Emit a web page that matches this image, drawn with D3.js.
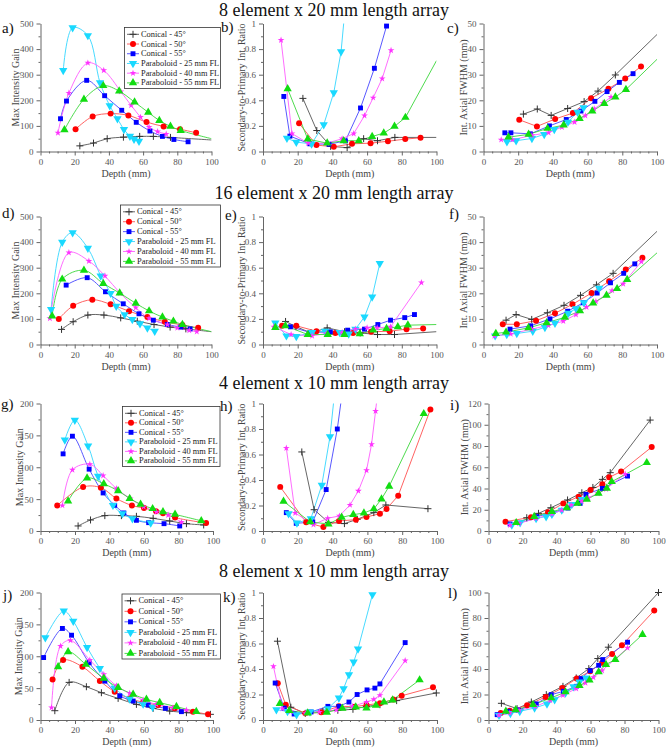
<!DOCTYPE html>
<html><head><meta charset="utf-8">
<script src="https://cdn.jsdelivr.net/npm/d3@7"></script>
<style>
body{margin:0;background:#fff}
svg{display:block}
svg text{font-family:"Liberation Serif","Times New Roman","DejaVu Serif",serif !important}
</style>
</head><body>
<svg id="chart" width="668" height="750" font-family="Liberation Serif, DejaVu Serif, serif"></svg>
<script>
// ---------- DATA ----------
const seriesNames = ["Conical - 45°","Conical - 50°","Conical - 55°","Paraboloid - 25 mm FL","Paraboloid - 40 mm FL","Paraboloid - 55 mm FL"];
const rowTitles = ["8 element x 20 mm length array","16 element x 20 mm length array","4 element x 10 mm length array","8 element x 10 mm length array"];
const panelLetters = ["a)","b)","c)","d)","e)","f)","g)","h)","i)","j)","k)","l)"];
const xTicks = [0,20,40,60,80,100];
const gainTicks500 = [0,100,200,300,400,500];
const gainTicks200 = [0,50,100,150,200];
const ratioTicks = [0,0.2,0.4,0.6,0.8,1];
const fwhmTicks50 = [0,10,20,30,40,50];
const fwhmTicks120 = [0,20,40,60,80,100,120];
const fwhmTicks100 = [0,20,40,60,80,100];
const yTitles = ["Max Intensity Gain","Secondary-to-Primary Int. Ratio","Int. Axial FWHM (mm)"];
const xTitle = "Depth (mm)";

// series order: Conical 45, Conical 50, Conical 55, Parab 25, Parab 40, Parab 55
const panelA = [
 [[23,22],[31,33],[39,50],[48.5,56],[58,59],[66,59],[76,55]],
 [[20.5,87],[30.5,137],[41,148],[51.4,141],[62,115],[72,98],[81.6,87],[91,73]],
 [[11.7,128],[15.2,197],[27,278],[37.5,218],[47.5,161],[56,114],[64,80],[71.3,59],[78,47],[86.3,38]],
 [[13.3,317],[18.8,484],[27.7,453],[34.8,269],[40.5,179],[45,128],[48.8,86],[52.3,60],[54.7,48],[57.6,40]],
 [[10.2,73],[16.6,228],[27.7,346],[37,317],[47,234],[53,180],[58.5,134],[63.5,95],[68.5,78],[73.5,68]],
 [[14,85],[25.4,204],[36.7,257],[46,236],[55,193],[63,153],[69.5,121],[76,98],[82,82]]
];
const tailA = [[100,45],null,null,null,null,[100,50]];

const panelB = [
 [[23,0.415],[31,0.164],[39,0.04],[48.5,0.03],[58,0.10],[66,0.084],[76,0.11]],
 [[20.8,0.22],[30.8,0.05],[40.8,0.037],[51.3,0.06],[62,0.065],[72,0.08],[82,0.097],[90.8,0.107]],
 [[12,0.43],[15.5,0.12],[27,0.06],[38,0.057],[47.5,0.083],[56.2,0.34],[64.2,0.65],[71.2,0.98]],
 [[13.8,0.104],[19.2,0.073],[28,0.06],[35,0.21],[40.8,0.46],[45,0.78]],
 [[10.4,0.87],[16.7,0.14],[26,0.065],[37,0.065],[45.6,0.10],[52.3,0.14],[58.5,0.28],[63.5,0.42],[68.7,0.57],[73.8,0.79]],
 [[14.2,0.49],[25.8,0.097],[37,0.065],[46.5,0.084],[55.2,0.084],[62.9,0.117],[69.6,0.144],[75.8,0.196],[82.1,0.266]]
];
const tailB = [[100,0.11],null,null,[48,1.22],null,[100,0.71]];

const panelC = [
 [[23,14.6],[31,16.6],[39,14.1],[48.5,16.8],[58,19.5],[66,23.6],[76,29.9]],
 [[20.6,12.4],[30.8,9.8],[41.3,12.7],[51.5,15],[62,20.8],[72,24.5],[81.7,28.5],[90.8,33.2]],
 [[12.3,7.3],[15.8,7.3],[27,6.9],[38,10],[47.7,12.5],[56.2,15.8],[64.2,19.6],[71.2,23.4],[78.3,27],[86.2,30.4]],
 [[13.5,3.8],[18.8,4.2],[27.9,5.1],[35,6.7],[40.8,8.6],[48.7,11.5],[54.2,15.4],[57.7,17.1]],
 [[10.2,4.6],[16.7,4.6],[27.9,6.3],[37.5,7.4],[45.2,9.5],[52.5,11.5],[58.7,14],[63.8,16.7],[68.8,18.9],[73.5,21.3]],
 [[14.4,5.6],[26,6.7],[36.9,9],[46.2,10.3],[55.4,12.9],[62.7,15.8],[69.6,18.7],[76,21.3],[82.1,24.2]]
];
const tailC = [[100,45.7],null,null,null,null,[100,36]];

const panelD = [
 [[12.3,59],[19.1,89],[27.7,115],[37.1,115],[46.9,104],[56.6,91],[66.4,78],[75.8,68],[85,61]],
 [[10.7,100],[19.1,151],[30.3,175],[41,157],[51.8,130],[62.5,107],[72.7,89],[83,76],[92.2,65]],
 [[15,232],[27.3,261],[38,206],[48.4,159],[57.6,120],[66,95],[74.2,78],[82,68],[87.5,61]],
 [[6.2,137],[12.7,400],[18.8,437],[27.7,376],[35.2,268],[41,200],[44.3,150],[49.2,117],[53.7,98],[58.2,81],[62.5,65],[66.8,52]],
 [[5.5,102],[16.6,359],[28.3,326],[37.7,268],[46.5,201],[55.7,144],[63.5,102],[74.2,78],[80,65],[87,55],[91.4,50]],
 [[6.8,111],[12.7,255],[25.4,290],[36.7,238],[46.3,201],[55.7,161],[63.5,131],[71.3,107],[77.7,91],[83,78]]
];
const tailD = [[100,50],null,null,null,null,[100,50]];

const panelE = [
 [[13,0.18],[19,0.14],[27.7,0.09],[37,0.13],[47,0.1],[56,0.09],[66,0.078],[75.8,0.078]],
 [[11,0.146],[19.2,0.146],[30.8,0.104],[41.7,0.089],[51.9,0.089],[62.3,0.099],[73,0.104],[82.7,0.12],[92.3,0.125]],
 [[15.8,0.138],[27.3,0.094],[38.8,0.099],[48.8,0.112],[58.5,0.12],[66.2,0.156],[73.5,0.19],[81.7,0.21],[87.3,0.234]],
 [[7.1,0.169],[13.5,0.068],[19.2,0.063],[28.3,0.094],[35.8,0.104],[44.2,0.094],[49.4,0.083],[53.3,0.12],[58.5,0.216],[62.9,0.372],[67.3,0.633]],
 [[6.2,0.138],[16.2,0.078],[28.3,0.068],[36.5,0.086],[45.6,0.094],[53.3,0.12],[60,0.13],[65.8,0.13],[73.5,0.138],[91.3,0.484]],
 [[7.1,0.133],[12.9,0.146],[25.8,0.078],[37.3,0.078],[46.9,0.078],[55.8,0.083],[63.5,0.112],[71.2,0.125],[77.7,0.138],[83.5,0.151]]
];
const tailE = [[100,0.10],null,null,null,null,[100,0.156]];

const panelF = [
 [[13,9.5],[18.8,11.7],[27.8,9.8],[36.8,12.4],[46.4,15.3],[55.9,19.2],[65.1,23.3],[74.7,27.8]],
 [[11.1,7.9],[19.2,7.9],[30.3,9.3],[41.2,12.2],[51.3,15.7],[62.3,20.1],[72.4,24.7],[82,29.3],[91.6,33.9]],
 [[15.3,6],[27.2,7.3],[38.3,10],[48.5,13],[57.5,16.3],[65.5,20.1],[73.2,24.1],[80.8,27.8],[87.2,31.5]],
 [[6.7,3.4],[13.4,3.9],[19.2,4.3],[28.4,5.2],[35.4,6.7],[41.2,8.3],[48.9,12.2],[53.3,14],[57.9,16.3],[66.7,22]],
 [[6.3,3.4],[15.7,4.1],[27.8,6],[37.4,7.5],[46,9.1],[53.3,11.7],[59.4,14.6],[64.8,16.8],[74.1,21.1],[80.5,23.7],[91,32.4]],
 [[7.1,4.3],[13,4.8],[25.9,6.5],[36.4,8.5],[46.9,10.6],[55.6,13.1],[63.2,16.2],[70.9,19.2],[77,21.8],[82.8,25.4]]
];
const tailF = [[100,44.2],null,null,null,null,[100,35.8]];

const panelG = [
 [[21.8,7.9],[29,17.3],[37.3,24.1],[46.9,24.1],[55.6,23],[65.3,19.9],[74.9,15.7],[84.6,11.5],[94.6,9.5]],
 [[9.7,40],[24.7,69],[35,68],[44,51],[53,40],[60,36],[67,31],[71,28],[78,21],[96,12.6]],
 [[13.1,121],[18.5,148.7],[28.2,97],[36.3,59.7],[43,40.3],[48.3,28.3],[55.6,16.8],[62.7,13.1],[71.6,11.5],[80.7,7.9]],
 [[14.1,143],[19.9,174],[27.6,133.5],[33.4,86],[42,40.3],[47.5,27.2],[53.3,19.4],[63.9,12.6]],
 [[12.7,40],[18.5,96],[28.6,104.7],[36.3,87],[44,66.5],[52,51],[59.8,38],[67.2,30],[74,25],[81.7,14]],
 [[16,47],[27,83],[36.7,74],[45,63],[51.7,51],[58,42],[65,35],[71,30],[78,26],[93.2,16]]
];
const tailG = [null,null,null,null,null,null];

const panelH = [
 [[22.3,0.62],[29.4,0.167],[37.6,0.068],[46.8,0.058],[54.2,0.092],[63.7,0.144],[70.6,0.204],[94.8,0.175]],
 [[9.9,0.346],[24.8,0.068],[34.7,0.031],[43.7,0.079],[53.4,0.089],[59.5,0.11],[67.2,0.136],[71,0.173],[77.7,0.277],[96.2,0.953]],
 [[13.4,0.144],[19.1,0.06],[28.6,0.071],[36.3,0.325],[42.7,0.8]],
 [[14.7,0.136],[19.5,0.063],[27.5,0.097],[33.8,0.36],[38.5,0.74]],
 [[13.4,0.65],[18.5,0.141],[29,0.05],[37.2,0.1],[43.9,0.118],[50,0.204],[54.8,0.314],[59.5,0.476],[62.4,0.68],[64.7,0.94]],
 [[11.8,0.233],[27.1,0.071],[37.6,0.055],[45.2,0.107],[51.9,0.128],[58,0.141],[63.7,0.173],[68.1,0.251],[72.5,0.351],[92.4,0.92]]
];
const tailH = [null,null,[46.7,1.2],[42.5,1.26],[66,1.1],null];

const panelI = [
 [[22.5,12.5],[29.4,16.6],[36.7,21.9],[46.5,29.2],[54.9,36],[61.4,41],[67,48.6],[71.6,54.9],[95.1,104.4]],
 [[10,8.8],[25,12.9],[35,17.6],[44,26],[53,32.3],[60,38.6],[67,43.9],[71,50.5],[78,56],[96,79]],
 [[12.7,6.6],[28.4,13.5],[37.3,17.2],[46.7,21.6],[53.9,26],[57.3,34.5],[67,40.1],[81.8,51.7]],
 [[13.7,5.6],[18.6,7.8],[28,11.9],[33.9,13.5],[37.3,15.7],[43.1,19.7],[49,25],[54.9,29.8]],
 [[12.7,5.6],[18,7.2],[28,11.9],[37.3,16],[43.1,19.7],[48.6,24.5],[54.9,28.2],[58.8,31.3],[64.3,35.4],[69.2,39.5],[80.4,53.6]],
 [[16.3,7.8],[26.9,13.5],[37.3,18.2],[46.1,21.9],[52.4,26],[57.8,29.8],[64.7,35.4],[69.6,40.1],[72.5,46.4],[93.1,64.3]]
];
const tailI = [null,null,null,null,null,null];

const panelJ = [
 [[8.3,14.6],[16.6,59],[26.6,52.2],[35.3,42.8],[45,33.9],[55.6,24.5],[65.3,18.3],[74.9,14.1],[84.6,11.5],[98.5,8.9]],
 [[7,63.7],[13.1,94],[24.3,83.5],[34.4,61.1],[43,44.4],[51.7,33.9],[59.5,27.7],[68.1,23.5],[77.8,18.3],[88.4,13.1],[97.1,8.9]],
 [[1.8,98],[12.7,143.6],[18,133],[28.2,89.8],[37.3,61],[46,38],[53.7,29.8],[62.4,23.5],[72.4,18.3],[81.7,13.1]],
 [[2.8,129],[13.5,171],[19,155],[27,114],[34.4,81],[43,50],[51.7,33],[59.5,25],[65,20]],
 [[6.4,19.3],[11.6,116],[17.4,124.8],[28.6,94],[36.7,71.5],[44,53.8],[51.7,41.8],[59.5,31.3],[67.2,24.5],[76.8,19.3],[84.6,15.7]],
 [[10.2,83.5],[16,107],[26.3,87.2],[36.7,65.3],[45,50.7],[53.7,40.2],[61.4,32.4],[69.1,27.2],[78.8,20.9],[90.3,13.1]]
];
const tailJ = [null,null,null,null,null,null];

const panelK = [
 [[8.3,0.618],[16,0.1],[24.3,0.052],[34.4,0.068],[43,0.076],[51.7,0.084],[59.5,0.107],[67.2,0.12],[76.8,0.152],[99.6,0.212]],
 [[8.5,0.288],[13.1,0.12],[24.3,0.052],[33.4,0.06],[43.6,0.107],[52.7,0.105],[59.5,0.118],[67.2,0.131],[74.9,0.16],[79.7,0.19],[97.7,0.257]],
 [[7,0.29],[12.2,0.094],[17.9,0.047],[27.6,0.063],[37.3,0.107],[43.6,0.107],[49.4,0.141],[54.1,0.2],[59.8,0.236],[64.3,0.25],[67.2,0.283],[81.7,0.607]],
 [[7.7,0.081],[14.1,0.068],[19.3,0.042],[27,0.063],[37.3,0.089],[43.6,0.173],[46.3,0.246],[49.4,0.356],[52.1,0.455],[54.6,0.558],[62.9,0.984]],
 [[6,0.42],[11.2,0.089],[16,0.068],[24.3,0.052],[32.4,0.063],[42.1,0.079],[51.4,0.107],[59.5,0.141],[63.7,0.162],[67.2,0.194],[81.7,0.466]],
 [[9.7,0.128],[15.1,0.073],[25.7,0.055],[36.7,0.06],[45.6,0.092],[53.3,0.102],[59.5,0.094],[64.9,0.115],[69.5,0.141],[74.5,0.157],[90,0.314]]
];
const tailK = [null,null,null,null,null,null];

const panelL = [
 [[7.6,13.1],[16.8,8.9],[25.2,14.1],[34,19.9],[43.8,26.4],[51.6,33],[59,40.3],[64.3,48.2],[70.5,57.1],[100,100]],
 [[7.2,5.5],[12.5,7.3],[22.7,11.5],[33.6,18.1],[43.4,25.1],[51.9,32.5],[59.8,38.2],[66.8,44.8],[72.7,51.8],[78.5,58.6],[97.5,85.9]],
 [[5.1,4.2],[11.5,6.8],[17.4,7.9],[28.1,12.6],[36.9,19.9],[44.1,22.5],[51.6,26.4],[54.5,32.5],[59.8,38.7],[64.8,42.9],[67.2,47.4],[81.8,61]],
 [[6.2,3.7],[12.9,5.2],[18.4,6.8],[27.1,9.4],[34.4,12.6],[38.9,16],[45.3,21.2],[50,26.2],[53.5,29.8],[57.4,33]],
 [[6.2,3.7],[12.5,5.5],[18,7.6],[27.7,10.7],[36.3,15.4],[43.8,19.4],[51.6,24.6],[57,29.1],[61.7,33.5],[66.8,38.7],[81.8,56.5]],
 [[10.2,6.8],[16,7.9],[26.2,12],[36.9,17.3],[45.3,22],[53.5,27],[59.4,31.2],[64.8,37.7],[69.1,43.5],[74.6,47.4],[90.6,67]]
];
const tailL = [null,null,null,null,null,null];

// ---------- STYLE / LAYOUT ----------
const FONT = "'Liberation Serif','Times New Roman','DejaVu Serif',serif";
const lineColors = ["#555555","#ff5050","#4545ff","#33d6ff","#ff5cff","#3ad63a"];
const markColors = ["#333333","#ff0000","#0000ff","#19d9ff","#ff33ff","#11dd11"];
const colX12 = [[40.5,211.5],[263,436.5],[483.5,657]];
const colX34 = [[40.5,213],[263,437],[488.5,658.5]];
const rowY = [[23.5,151.5],[216.5,344.5],[403.5,531],[592.5,720]];
const titleY = [16,199,389,577];
const letterPos = [[2,33],[221,32],[447,33],[2,218],[225,220],[449,219],[1,409],[220,411],[450,410],[3,600],[223,602],[448,598]];
const yTitleX = [[15,241,463],[15,241,463],[19,241,464],[18,241,464]];
const legendBoxes = [[124.5,27.5,96,61],[120.5,205,100,62],[122.5,406.5,97.5,60],[122,594,98.5,65]];

const svg = d3.select("#chart");

const panels = [
 {d:panelA,t:tailA,yd:[0,500],yt:gainTicks500,ym:50,type:0},
 {d:panelB,t:tailB,yd:[0,1],yt:ratioTicks,ym:0.1,type:1},
 {d:panelC,t:tailC,yd:[0,50],yt:fwhmTicks50,ym:5,type:2},
 {d:panelD,t:tailD,yd:[0,500],yt:gainTicks500,ym:50,type:0},
 {d:panelE,t:tailE,yd:[0,1],yt:ratioTicks,ym:0.1,type:1},
 {d:panelF,t:tailF,yd:[0,50],yt:fwhmTicks50,ym:5,type:2},
 {d:panelG,t:tailG,yd:[0,200],yt:gainTicks200,ym:25,type:0},
 {d:panelH,t:tailH,yd:[0,1],yt:ratioTicks,ym:0.1,type:1},
 {d:panelI,t:tailI,yd:[0,120],yt:fwhmTicks120,ym:10,type:2},
 {d:panelJ,t:tailJ,yd:[0,200],yt:gainTicks200,ym:25,type:0},
 {d:panelK,t:tailK,yd:[0,1],yt:ratioTicks,ym:0.1,type:1},
 {d:panelL,t:tailL,yd:[0,100],yt:fwhmTicks100,ym:10,type:2}
];

function marker(sel, i, col) {
  if (i === 0) {
    sel.append("path").attr("d","M-3.5,0H3.5M0,-3.5V3.5").attr("stroke",col).attr("stroke-width",1).attr("fill","none");
  } else if (i === 1) {
    sel.append("path").attr("d", d3.symbol(d3.symbolCircle, 28)()).attr("fill",col);
  } else if (i === 2) {
    sel.append("path").attr("d", d3.symbol(d3.symbolSquare, 24)()).attr("fill",col);
  } else if (i === 3) {
    sel.append("path").attr("d", d3.symbol(d3.symbolTriangle, 30)()).attr("transform","rotate(180)").attr("fill",col);
  } else if (i === 4) {
    sel.append("path").attr("d", d3.symbol(d3.symbolStar, 14)()).attr("fill",col);
  } else {
    sel.append("path").attr("d", d3.symbol(d3.symbolTriangle, 30)()).attr("fill",col);
  }
}

function txt(sel){ return sel.append("text").attr("font-family",FONT).style("font-family",FONT); }

rowTitles.forEach((t,r)=>{
  txt(svg).attr("x",334).attr("y",titleY[r]).attr("text-anchor","middle")
    .attr("font-size",18).attr("fill","#111").text(t);
});

panels.forEach((p,k)=>{
  const r = Math.floor(k/3), c = k%3;
  const cx = (r<2?colX12:colX34)[c];
  const x = d3.scaleLinear().domain([0,100]).range(cx);
  const y = d3.scaleLinear().domain(p.yd).range([rowY[r][1],rowY[r][0]]);
  const g = svg.append("g");
  const clipId = "clip"+k;
  svg.append("clipPath").attr("id",clipId).append("rect")
    .attr("x",cx[0]).attr("y",rowY[r][0]).attr("width",cx[1]-cx[0]).attr("height",rowY[r][1]-rowY[r][0]);

  const xMinor = d3.range(0,100.01,5).filter(v=>v%20!==0);
  const ax = g.append("g").attr("transform",`translate(0,${rowY[r][1]})`);
  ax.call(d3.axisBottom(x).tickValues(xTicks).tickSize(4).tickSizeOuter(0).tickFormat(d3.format("d")));
  ax.append("g").call(d3.axisBottom(x).tickValues(xMinor).tickSize(2).tickFormat("")).select(".domain").remove();
  const yMax = p.yd[1];
  const yMinor = d3.range(0,yMax+1e-9,p.ym).filter(v=>!p.yt.some(t=>Math.abs(t-v)<1e-9));
  const ay = g.append("g").attr("transform",`translate(${cx[0]},0)`);
  ay.call(d3.axisLeft(y).tickValues(p.yt).tickSize(4).tickSizeOuter(0).tickFormat(v=>String(+v.toFixed(2))));
  ay.append("g").call(d3.axisLeft(y).tickValues(yMinor).tickSize(2).tickFormat("")).select(".domain").remove();
  g.selectAll("g").attr("font-family",FONT);
  g.selectAll(".domain").attr("stroke","#666");
  g.selectAll(".tick line").attr("stroke","#666");
  g.selectAll(".tick text").attr("font-family",FONT).style("font-family",FONT).attr("font-size",9).attr("fill","#555");

  txt(g).attr("x",(cx[0]+cx[1])/2).attr("y",rowY[r][1]+25).attr("text-anchor","middle")
    .attr("font-size",10).attr("fill","#444").text(xTitle);
  const yt = txt(g).attr("transform",`translate(${yTitleX[r][c]},${(rowY[r][0]+rowY[r][1])/2}) rotate(-90)`)
    .attr("text-anchor","middle").attr("dominant-baseline","central")
    .attr("font-size",10).attr("fill","#444").text(yTitles[p.type]);
  const maxLen = rowY[r][1]-rowY[r][0];
  const L = yt.node().getComputedTextLength();
  if (L > maxLen) yt.attr("font-size", 10*maxLen/L);

  txt(svg).attr("x",letterPos[k][0]).attr("y",letterPos[k][1]).attr("font-size",15).attr("fill","#111").text(panelLetters[k]);

  const curve = p.type===0 ? d3.curveCatmullRom.alpha(0.5) : d3.curveLinear;
  const line = d3.line().x(d=>x(d[0])).y(d=>y(d[1])).curve(curve);
  const lg = g.append("g").attr("clip-path",`url(#${clipId})`);
  p.d.forEach((s,i)=>{
    const pts = p.t[i] ? s.concat([p.t[i]]) : s;
    lg.append("path").attr("d",line(pts)).attr("fill","none").attr("stroke",lineColors[i]).attr("stroke-width",0.9);
  });
  p.d.forEach((s,i)=>{
    s.forEach(pt=>{
      const m = g.append("g").attr("transform",`translate(${x(pt[0])},${y(pt[1])})`);
      marker(m,i,markColors[i]);
    });
  });

  if (c===0) {
    const b = legendBoxes[r];
    const lgd = svg.append("g");
    lgd.append("rect").attr("x",b[0]).attr("y",b[1]).attr("width",b[2]).attr("height",b[3])
      .attr("fill","#fff").attr("stroke","#333").attr("stroke-width",0.8);
    const step = (b[3]-12.4)/5;
    seriesNames.forEach((n,i)=>{
      const yy = b[1]+6.8+step*i;
      lgd.append("line").attr("x1",b[0]+2.5).attr("x2",b[0]+14.5).attr("y1",yy).attr("y2",yy)
        .attr("stroke",lineColors[i]).attr("stroke-width",0.9);
      marker(lgd.append("g").attr("transform",`translate(${b[0]+8.5},${yy})`),i,markColors[i]);
      const t = txt(lgd).attr("x",b[0]+16.5).attr("y",yy).attr("dominant-baseline","central")
        .attr("font-size",8.4).attr("fill","#222").text(n);
      const w = t.node().getComputedTextLength();
      if (w > b[2]-18) t.attr("font-size",8.4*(b[2]-18)/w);
    });
  }
});
</script>
</body></html>
